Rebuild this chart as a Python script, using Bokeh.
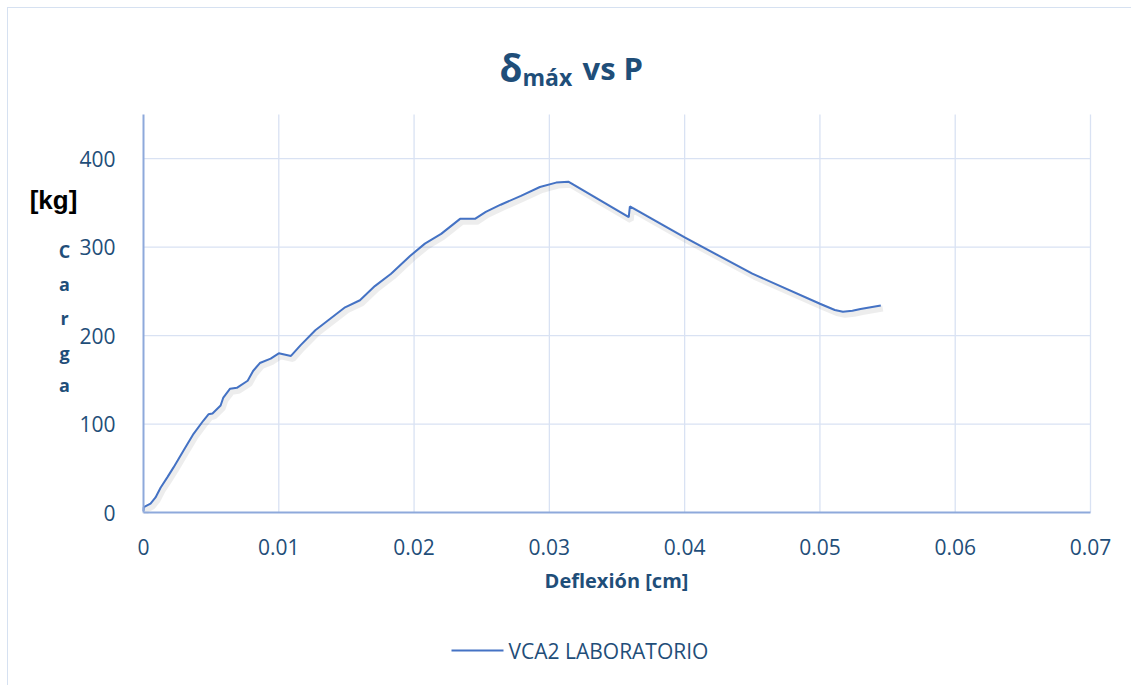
from bokeh.plotting import figure
from bokeh.models import Label, Range1d, FixedTicker, Arrow
from bokeh.embed import file_html
from bokeh.resources import INLINE

# ---- data ----
deflexion = [0.0, 0.00002, 0.00052, 0.00089, 0.00126, 0.00177, 0.00222, 0.00296, 0.0037,
             0.00443, 0.0048, 0.0051, 0.0057, 0.0059, 0.0064, 0.0069, 0.0077, 0.0081,
             0.0086, 0.0094, 0.0100, 0.0109, 0.0116, 0.0127, 0.0138, 0.0149, 0.0160,
             0.0171, 0.0183, 0.0197, 0.0208, 0.0220, 0.0234, 0.0245, 0.0253, 0.0264,
             0.0279, 0.0293, 0.0305, 0.0314, 0.03587, 0.03595, 0.0400, 0.0450, 0.0500,
             0.0511, 0.0517, 0.0524, 0.0530, 0.0545]
carga = [2, 6, 10, 17, 28, 40, 51, 70, 89,
         104, 111, 112, 121, 130, 140, 141, 149, 160,
         169, 174, 180, 177, 189, 206, 219, 232, 240,
         256, 270, 290, 304, 315, 332, 332, 340, 348,
         358, 368, 373, 374, 334, 346, 311, 270, 236,
         229, 227, 228, 230, 234]
x_ticks = [0, 0.01, 0.02, 0.03, 0.04, 0.05, 0.06, 0.07]
x_tick_labels = ["0", "0.01", "0.02", "0.03", "0.04", "0.05", "0.06", "0.07"]
y_ticks = [0, 100, 200, 300, 400]
x_min, x_max = 0, 0.07
y_min, y_max = 0, 450
series_name = "VCA2 LABORATORIO"

# ---- style ----
DARK = "#1F4E79"
LINE = "#4472C4"
GRID = "#D9E2F3"
AXIS = "#8EA9DB"

W, H = 1124, 678
OX, OY = 8, 8                          # canvas origin in page pixels
FL, FT, FR, FB = 143, 114, 1090, 512   # data area edges in page pixels

# the frame fills the whole canvas; the ranges are widened so the data area
# lands on FL..FR / FT..FB, and the axes are drawn at fixed data locations
kx = (x_max - x_min) / (FR - FL)
ky = (y_max - y_min) / (FB - FT)
x_range = Range1d(x_min - (FL - OX) * kx, x_max + (OX + W - FR) * kx)
y_range = Range1d(y_min - (OY + H - FB) * ky, y_max + (FT - OY) * ky)

p = figure(width=W, height=H, output_backend="svg", toolbar_location=None,
           x_range=x_range, y_range=y_range,
           min_border_left=0, min_border_top=0, min_border_right=0, min_border_bottom=0)
p.styles = {"margin-left": "7px", "margin-top": "7px",
            "border-left": "1px solid #D6E1F1", "border-top": "1px solid #D6E1F1"}
p.outline_line_color = None
p.background_fill_color = "white"
p.border_fill_color = "white"
p.grid.visible = False

# gridlines (from the tick arrays)
p.segment(x0=x_ticks[1:], y0=[y_min] * (len(x_ticks) - 1), x1=x_ticks[1:], y1=[y_max] * (len(x_ticks) - 1),
          line_color=GRID, line_width=1.3)
p.segment(x0=[x_min] * (len(y_ticks) - 1), y0=y_ticks[1:], x1=[x_max] * (len(y_ticks) - 1), y1=y_ticks[1:],
          line_color=GRID, line_width=1.3)

# soft shadow (offset down-right)
p.line([v + 2 * kx for v in deflexion], [v - 3 * ky for v in carga], line_color="#000000",
       line_alpha=0.07, line_width=6)
r = p.line(deflexion, carga, line_color=LINE, line_width=2)

xa, ya = p.xaxis[0], p.yaxis[0]
xa.fixed_location = y_min
ya.fixed_location = x_min
xa.bounds = (x_min, x_max)
ya.bounds = (y_min, y_max)
xa.ticker = FixedTicker(ticks=x_ticks)
xa.major_label_overrides = {t: l for t, l in zip(x_ticks, x_tick_labels)}
ya.ticker = FixedTicker(ticks=y_ticks)
for ax in (xa, ya):
    ax.axis_line_color = AXIS
    ax.axis_line_width = 2
    ax.major_tick_line_color = None
    ax.minor_tick_line_color = None
    ax.major_label_text_color = DARK
    ax.major_label_text_font = "Open Sans"
    ax.major_label_text_font_size = "21px"
xa.major_label_standoff = 20
ya.major_label_standoff = 22


# screen units: relative to the frame's bottom-left (= canvas bottom-left)
def sx(px):
    return px - OX


def sy(py):
    return OY + H - py


def lab(text, px, py, size, color=DARK, bold=True, font="Open Sans", align="center", base="middle"):
    p.add_layout(Label(x=sx(px), y=sy(py), x_units="screen", y_units="screen", text=text,
                       text_font=font, text_font_size=size, text_color=color,
                       text_font_style="bold" if bold else "normal",
                       text_align=align, text_baseline=base))


# title: δ_máx vs P
lab("δ", 499, 67, "37px", align="left", base="alphabetic")
lab("máx", 522, 76, "23px", align="left", base="alphabetic")
lab("vs P", 582, 67, "31px", align="left", base="alphabetic")

# y label
lab("[kg]", 53, 199, "26px", color="#000000", font="Liberation Sans")
for letter, yy in zip("Carga", [250, 283, 317, 352, 384]):
    lab(letter, 64, yy, "18px")

# x label
lab("Deflexión [cm]", 616, 580, "20px")

# legend (manual)
p.add_layout(Arrow(x_start=sx(451), y_start=sy(650), x_end=sx(503), y_end=sy(650),
                   start_units="screen", end_units="screen", start=None, end=None,
                   line_color=LINE, line_width=2))
lab(series_name, 508, 650, "21px", bold=False, align="left")

open("out.html", "w").write(file_html(p, INLINE))
